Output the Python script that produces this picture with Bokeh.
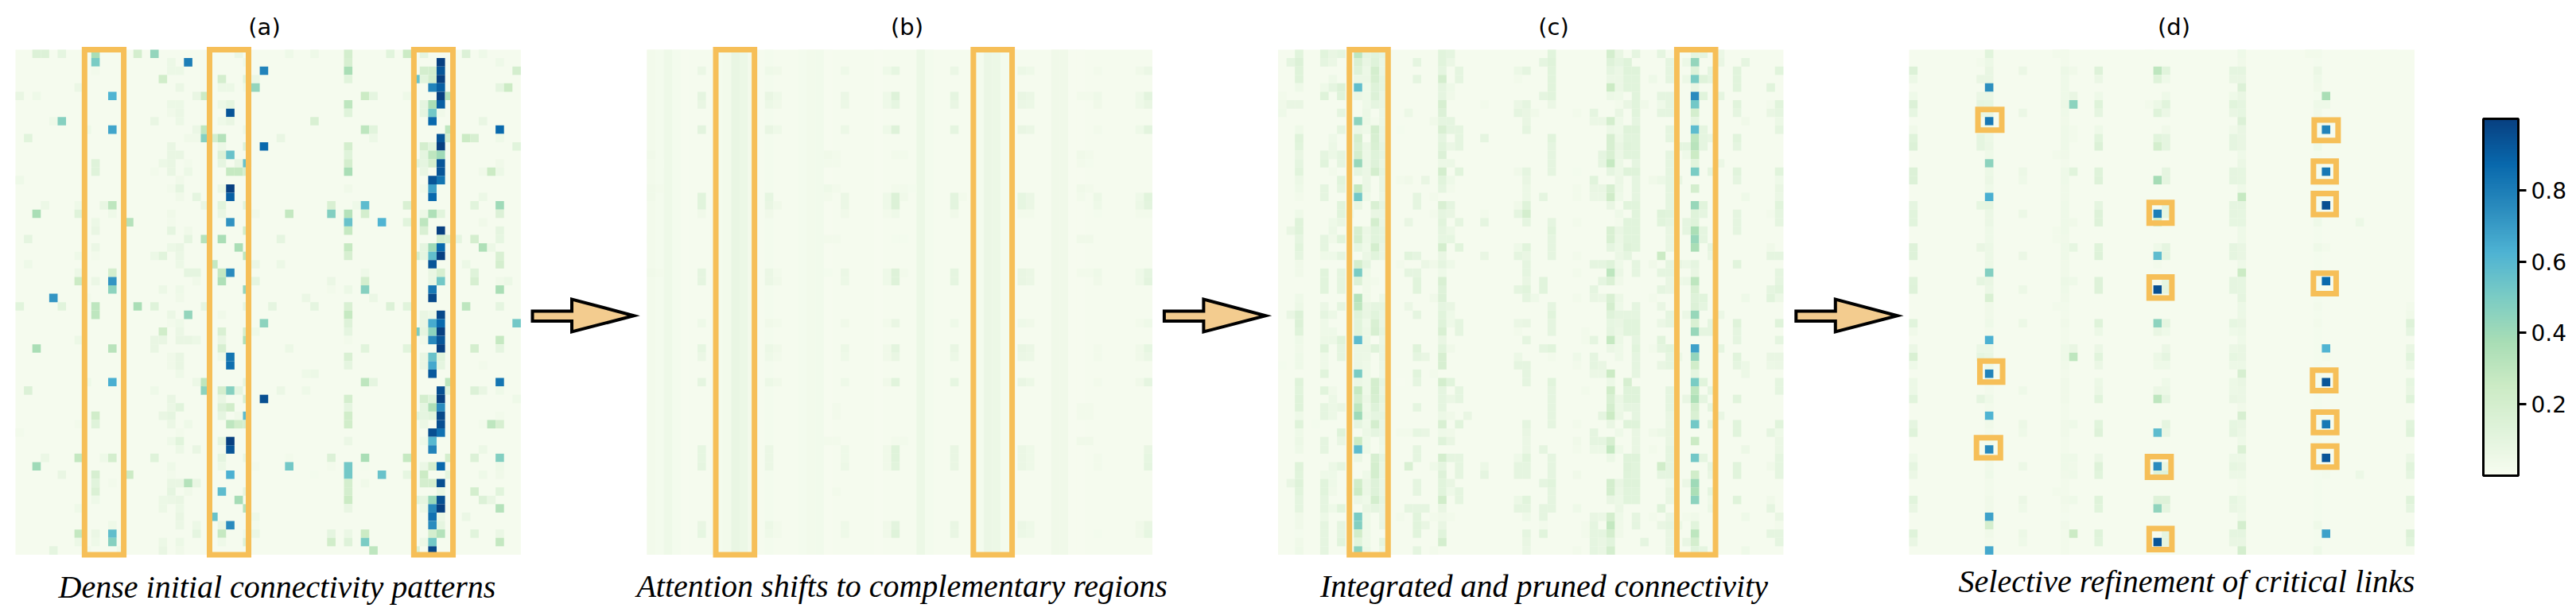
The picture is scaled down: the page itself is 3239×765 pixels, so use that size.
from bokeh.embed import file_html
from bokeh.resources import INLINE
from bokeh.plotting import figure
from bokeh.models import ColumnDataSource, LinearColorMapper, ColorBar, FixedTicker, Range1d
from bokeh.core.properties import value
from bokeh.transform import transform
from bokeh.palettes import GnBu9
import numpy as np

titles = ["(a)", "(b)", "(c)", "(d)"]
captions = ["Dense initial connectivity patterns", "Attention shifts to complementary regions",
            "Integrated and pruned connectivity", "Selective refinement of critical links"]
colorbar_ticks = [0.2, 0.4, 0.6, 0.8]
base_value = 0.012

# (column, value) cells per row, rows 0-59
a_cells = [
[(2,.15),(3,.15),(5,.1),(9,.37),(14,.2),(16,.43),(26,.07),(32,.05),(35,.05),(39,.2),(44,.12),(46,.25),(48,.1),(53,.15),(55,.05)],
[(9,.5),(18,.06),(20,.8),(27,.05),(39,.18),(50,1.0),(57,.05)],
[(9,.03),(18,.06),(19,.06),(29,.78),(39,.37),(48,.2),(49,.2),(50,.93),(59,.2)],
[(17,.22),(24,.2),(27,.12),(28,.07),(39,.12),(47,.55),(48,.12),(49,.2),(50,1.0)],
[(7,.07),(19,.07),(24,.06),(25,.06),(27,.05),(28,.43),(49,.78),(50,.9),(57,.1),(58,.25)],
[(0,.08),(2,.05),(11,.62),(21,.08),(22,.25),(41,.25),(42,.1),(46,.05),(50,1.0),(51,.33)],
[(18,.06),(19,.06),(24,.06),(25,.1),(39,.3),(48,.1),(49,.37),(50,.9)],
[(18,.04),(19,.07),(25,.93),(39,.13),(48,.1),(49,.52),(50,.04)],
[(4,.05),(5,.47),(16,.08),(19,.06),(24,.05),(25,.08),(35,.17),(49,.87),(55,.08)],
[(8,.05),(11,.67),(21,.07),(22,.3),(27,.06),(41,.3),(42,.12),(51,.3),(57,.87)],
[(1,.12),(20,.04),(21,.04),(22,.47),(23,.2),(24,.33),(31,.08),(42,.06),(50,.93),(51,.2),(53,.25),(54,.18),(57,.05)],
[(18,.08),(24,.06),(27,.15),(29,.87),(39,.2),(48,.2),(49,.12),(50,1.0),(59,.12)],
[(18,.08),(19,.08),(24,.15),(25,.55),(39,.13),(48,.1),(49,.3),(50,.4)],
[(9,.13),(17,.06),(18,.08),(20,.03),(24,.1),(26,.08),(27,.55),(39,.2),(47,.12),(48,.1),(49,.2),(50,.93),(57,.04)],
[(9,.13),(16,.03),(18,.08),(20,.06),(25,.27),(26,.27),(27,.2),(39,.37),(48,.08),(50,.93),(55,.04),(56,.25),(57,.06)],
[(0,.05),(19,.04),(49,.93),(50,.83)],
[(18,.03),(19,.1),(24,.07),(25,1.0),(39,.04),(48,.04),(49,.68)],
[(19,.04),(21,.1),(25,.9),(49,.87),(55,.06)],
[(3,.06),(7,.05),(10,.08),(11,.3),(22,.08),(24,.12),(27,.12),(37,.17),(40,.05),(41,.58),(46,.17),(54,.12),(57,.4)],
[(2,.37),(7,.13),(11,.05),(18,.04),(24,.08),(28,.04),(32,.28),(37,.48),(39,.33),(41,.2),(48,.06),(49,.35),(50,.12),(57,.15)],
[(9,.06),(13,.33),(18,.03),(25,.73),(39,.55),(43,.62),(46,.12),(48,.3),(55,.04)],
[(9,.08),(18,.1),(20,.04),(27,.22),(39,.27),(48,.17),(50,1.0),(57,.1)],
[(1,.1),(20,.1),(22,.33),(24,.37),(31,.1),(50,.2),(51,.17),(52,.1),(54,.2),(57,.09)],
[(9,.07),(18,.06),(19,.08),(26,.37),(39,.27),(48,.1),(49,.4),(50,.87),(55,.35),(56,.06)],
[(7,.05),(9,.03),(16,.06),(17,.12),(19,.07),(27,.3),(39,.18),(47,.2),(48,.1),(49,.57),(50,1.0),(57,.17)],
[(1,.05),(19,.06),(23,.28),(28,.07),(31,.06),(49,.93),(53,.06),(57,.2)],
[(7,.06),(11,.2),(20,.1),(21,.1),(24,.28),(25,.75),(41,.05),(49,.08),(50,.18),(54,.13)],
[(7,.25),(9,.07),(11,.72),(21,.04),(24,.35),(28,.1),(37,.07),(41,.2),(49,.08),(50,.52),(54,.18),(57,.04),(58,.06)],
[(11,.45),(17,.06),(19,.05),(27,.43),(37,.03),(39,.06),(41,.47),(49,.82),(57,.37)],
[(4,.72),(8,.03),(19,.04),(34,.07),(42,.07),(49,.97)],
[(0,.12),(5,.12),(9,.3),(14,.37),(16,.13),(22,.1),(27,.1),(30,.1),(35,.1),(39,.17),(44,.15),(46,.12),(53,.3),(57,.1)],
[(9,.3),(18,.07),(20,.43),(24,.04),(39,.27),(48,.08),(49,.06),(50,.97)],
[(18,.03),(19,.05),(29,.45),(39,.14),(48,.08),(49,.65),(50,.87),(59,.52)],
[(17,.22),(19,.07),(24,.17),(27,.2),(28,.05),(39,.1),(47,.5),(48,.1),(49,.45),(50,1.0)],
[(7,.06),(16,.08),(17,.08),(19,.08),(20,.08),(21,.06),(24,.08),(27,.35),(39,.03),(48,.04),(49,.76),(50,.93),(57,.27)],
[(2,.37),(11,.32),(16,.08),(24,.18),(32,.06),(41,.12),(46,.12),(50,1.0),(54,.2),(57,.1)],
[(18,.04),(19,.08),(24,.05),(25,.83),(39,.17),(48,.08),(49,.55),(50,.12)],
[(18,.04),(19,.08),(25,.85),(39,.1),(48,.08),(49,.66),(50,.1),(55,.03)],
[(19,.05),(34,.05),(35,.06),(49,.92)],
[(8,.05),(11,.64),(21,.06),(22,.3),(27,.1),(41,.3),(42,.1),(51,.3),(57,.83)],
[(1,.15),(16,.05),(22,.45),(24,.2),(25,.47),(26,.1),(31,.07),(34,.05),(50,.95),(51,.12),(54,.15),(55,.08),(57,.05)],
[(18,.08),(24,.08),(27,.18),(29,.95),(39,.2),(48,.2),(49,.13),(50,1.0),(59,.05)],
[(18,.07),(19,.12),(24,.15),(25,.22),(39,.1),(48,.1),(49,.35),(50,.75)],
[(9,.22),(17,.08),(18,.1),(24,.1),(26,.04),(27,.58),(39,.22),(47,.12),(48,.1),(49,.12),(50,.97),(57,.03)],
[(7,.03),(9,.13),(18,.07),(20,.05),(25,.3),(26,.22),(27,.2),(39,.22),(48,.07),(50,.95),(55,.03),(56,.3),(57,.18)],
[(0,.03),(19,.03),(49,.95),(50,.84)],
[(18,.05),(19,.12),(24,.1),(25,1.0),(39,.07),(48,.05),(49,.6)],
[(19,.06),(21,.08),(24,.03),(25,.93),(49,.78),(55,.06)],
[(3,.07),(7,.28),(10,.05),(11,.2),(16,.13),(24,.1),(27,.08),(32,.03),(37,.15),(41,.37),(46,.27),(51,.2),(54,.15),(57,.48)],
[(2,.4),(18,.05),(24,.06),(28,.03),(32,.52),(37,.03),(39,.52),(41,.02),(48,.07),(49,.2),(50,.87),(57,.05)],
[(5,.08),(9,.18),(13,.25),(18,.03),(25,.63),(35,.02),(39,.52),(43,.55),(46,.09),(48,.25),(51,.1),(55,.05),(57,.04)],
[(9,.12),(11,.03),(18,.08),(19,.08),(20,.33),(21,.08),(39,.2),(41,.04),(48,.2),(49,.2),(50,.95)],
[(9,.16),(18,.1),(20,.04),(24,.58),(27,.1),(39,.2),(50,.08),(54,.2),(57,.12)],
[(9,.05),(17,.06),(18,.07),(19,.08),(26,.38),(39,.25),(47,.12),(48,.1),(49,.42),(50,.95),(55,.15),(56,.08)],
[(7,.05),(17,.06),(19,.06),(27,.33),(39,.08),(48,.06),(49,.76),(50,1.0),(57,.33)],
[(19,.08),(23,.55),(28,.05),(49,.84),(50,.07),(53,.07)],
[(11,.05),(19,.07),(21,.06),(24,.08),(25,.75),(28,.03),(49,.75),(50,.1)],
[(7,.28),(9,.07),(11,.57),(21,.1),(24,.27),(27,.05),(28,.07),(37,.1),(39,.07),(41,.25),(49,.2),(50,.33),(54,.12),(57,.07)],
[(7,.06),(9,.05),(11,.47),(17,.06),(19,.06),(24,.05),(27,.15),(37,.22),(39,.14),(41,.5),(48,.06),(49,.52),(57,.28)],
[(4,.1),(8,.03),(12,.04),(17,.08),(19,.04),(42,.3),(47,.15),(49,.97)],
]

b_stripe_cols = [0,1,2,3,4,8,9,10,11,12,14,18,19,20,21,27,32,33,39,40,41,42,43,48,49,50,51]
b_stripe_vals = [.03,.02,.05,.02,.01,.02,.03,.08,.06,.03,.02,.02,.03,.035,.01,.01,.06,.02,.02,.07,.06,.02,.01,.04,.04,.01,.01]

b_cells = [
[],[],
[(6,.07),(14,.05),(15,.04),(23,.05),(28,.05),(29,.09),(36,.07),(44,.06),(45,.05),(53,.03),(58,.04),(59,.07)],
[],[],
[(6,.1),(14,.08),(15,.05),(23,.07),(28,.05),(29,.14),(36,.1),(44,.08),(45,.07),(51,.03),(52,.03),(53,.05),(58,.05),(59,.11)],
[(6,.08),(14,.06),(15,.04),(23,.06),(28,.05),(29,.09),(36,.08),(44,.07),(45,.06),(53,.04),(58,.05),(59,.08)],
[],[],
[(6,.11),(14,.08),(15,.05),(23,.06),(28,.05),(29,.14),(36,.1),(44,.08),(45,.07),(53,.03),(58,.05),(59,.11)],
[],[],
[(0,.04),(21,.04),(22,.03),(29,.03),(30,.03),(51,.04),(52,.03)],
[(0,.03),(1,.02),(21,.03),(22,.03),(51,.03),(52,.02)],
[],[],
[(0,.04),(1,.03),(14,.02),(21,.05),(22,.03),(29,.03),(30,.03),(31,.02),(51,.04),(52,.03)],
[(0,.04),(6,.12),(14,.09),(21,.03),(23,.07),(28,.05),(29,.15),(30,.04),(36,.11),(37,.03),(44,.09),(45,.07),(51,.03),(53,.06),(58,.05),(59,.12)],
[(6,.12),(14,.08),(15,.04),(23,.07),(28,.05),(29,.15),(36,.11),(44,.09),(45,.07),(53,.05),(58,.06),(59,.11)],
[(6,.04),(14,.04),(23,.04),(28,.03),(29,.05),(36,.04),(44,.03),(45,.03),(53,.02),(58,.03),(59,.03)],
[],[],
[(0,.03),(21,.03),(22,.03),(29,.02),(30,.02),(51,.04),(52,.04)],
[],[],[],
[(0,.04),(1,.03),(6,.1),(14,.07),(15,.03),(21,.02),(23,.07),(28,.05),(29,.14),(30,.03),(36,.1),(44,.08),(45,.07),(51,.03),(52,.03),(53,.05),(58,.05),(59,.1)],
[(6,.1),(14,.07),(15,.04),(23,.06),(28,.05),(29,.14),(36,.1),(44,.08),(45,.07),(53,.04),(58,.05),(59,.11)],
[],[],[],[],
[(6,.05),(14,.04),(15,.03),(23,.04),(28,.03),(29,.08),(36,.05),(44,.05),(45,.04),(58,.03),(59,.05)],
[],[],
[(6,.09),(14,.06),(15,.04),(23,.06),(28,.04),(29,.11),(36,.08),(44,.08),(45,.07),(53,.03),(58,.04),(59,.09)],
[(6,.07),(14,.05),(15,.03),(23,.05),(28,.04),(29,.08),(36,.06),(44,.07),(45,.06),(53,.03),(58,.04),(59,.07)],
[],[],
[(6,.1),(14,.06),(15,.04),(23,.05),(28,.04),(29,.12),(36,.09),(44,.08),(45,.06),(53,.03),(58,.04),(59,.1)],
[],[],
[(0,.03),(22,.03),(51,.03),(52,.03)],
[(0,.03),(22,.03),(51,.03),(52,.03)],
[],[],
[(21,.03),(22,.03),(29,.03),(30,.03),(51,.04),(52,.04)],
[(6,.09),(14,.07),(23,.05),(28,.04),(29,.13),(36,.08),(44,.07),(45,.05),(59,.08)],
[(6,.09),(14,.07),(23,.05),(28,.04),(29,.13),(36,.08),(44,.07),(45,.05),(53,.03),(59,.09)],
[(6,.1),(14,.07),(23,.06),(28,.04),(29,.12),(36,.08),(44,.07),(45,.05),(53,.03),(59,.1)],
[],[],
[(0,.03),(22,.03)],
[],[],[],
[(6,.08),(14,.06),(15,.03),(23,.05),(28,.04),(29,.11),(36,.08),(44,.07),(45,.05),(58,.04),(59,.08)],
[(6,.09),(14,.05),(15,.03),(23,.05),(28,.04),(29,.13),(36,.08),(44,.06),(45,.05),(53,.02),(58,.04),(59,.09)],
[],[],
]

c_cells = [
[(2,.12),(5,.12),(6,.08),(7,.1),(9,.3),(10,.1),(11,.12),(12,.1),(19,.12),(20,.1),(32,.12),(39,.2),(40,.08),(42,.1),(45,.1),(49,.1),(50,.1),(52,.07)],
[(1,.1),(2,.15),(5,.1),(6,.07),(9,.17),(10,.08),(11,.13),(12,.08),(16,.1),(19,.12),(20,.07),(31,.1),(32,.13),(39,.14),(40,.1),(41,.13),(46,.1),(48,.06),(49,.43),(52,.08),(55,.1)],
[(2,.13),(8,.03),(9,.14),(10,.06),(11,.2),(12,.08),(19,.1),(21,.1),(28,.06),(29,.1),(32,.12),(39,.1),(40,.07),(41,.13),(42,.13),(46,.1),(49,.14),(51,.1),(54,.12),(59,.12)],
[(2,.13),(6,.05),(9,.07),(10,.07),(11,.18),(12,.1),(16,.1),(19,.2),(21,.1),(28,.03),(32,.12),(39,.07),(40,.07),(41,.12),(42,.12),(44,.05),(46,.1),(48,.06),(49,.5),(50,.13),(51,.1),(54,.12)],
[(2,.05),(5,.05),(6,.1),(7,.15),(9,.57),(10,.05),(11,.14),(12,.1),(19,.1),(20,.05),(32,.12),(39,.25),(40,.07),(41,.12),(42,.12),(49,.08),(54,.12),(58,.12)],
[(0,.03),(5,.13),(7,.13),(8,.03),(9,.07),(10,.05),(11,.15),(12,.08),(19,.1),(20,.04),(31,.1),(32,.12),(39,.06),(40,.05),(42,.12),(45,.1),(46,.1),(49,.75),(50,.12),(52,.1)],
[(0,.04),(1,.08),(2,.08),(10,.05),(11,.1),(12,.08),(19,.18),(24,.03),(28,.07),(29,.1),(32,.07),(40,.03),(41,.08),(42,.12),(43,.04),(45,.05),(46,.1),(49,.52),(54,.12),(58,.03),(59,.12)],
[(0,.05),(7,.1),(10,.06),(12,.07),(15,.06),(19,.15),(28,.1),(29,.08),(30,.04),(35,.03),(37,.1),(40,.08),(42,.12),(45,.1),(46,.1),(49,.2),(54,.1),(58,.08),(59,.1)],
[(9,.45),(10,.06),(11,.03),(12,.07),(18,.04),(19,.1),(20,.1),(29,.08),(37,.07),(38,.07),(39,.2),(40,.05),(42,.1),(49,.1),(55,.04),(59,.06)],
[(2,.05),(7,.1),(9,.07),(10,.05),(11,.2),(12,.08),(14,.02),(19,.17),(20,.1),(21,.1),(29,.1),(39,.06),(40,.05),(41,.13),(42,.13),(46,.1),(49,.58),(50,.1),(59,.1)],
[(2,.13),(6,.05),(9,.2),(11,.18),(12,.08),(19,.1),(21,.1),(24,.1),(32,.12),(39,.18),(40,.06),(41,.12),(42,.12),(46,.1),(49,.3),(50,.1),(51,.08),(54,.12)],
[(2,.12),(6,.06),(9,.17),(10,.07),(11,.17),(12,.1),(19,.12),(20,.07),(21,.1),(32,.1),(39,.18),(40,.08),(41,.13),(42,.12),(47,.1),(48,.1),(49,.32),(50,.1),(54,.1)],
[(2,.08),(5,.1),(6,.06),(7,.1),(9,.2),(10,.06),(11,.13),(12,.1),(19,.15),(32,.1),(38,.1),(39,.17),(40,.07),(41,.12),(42,.12),(46,.1),(48,.05),(49,.25)],
[(2,.1),(5,.12),(7,.1),(9,.42),(10,.07),(11,.14),(12,.08),(19,.06),(20,.06),(32,.1),(38,.1),(39,.27),(40,.06),(42,.1),(46,.1),(49,.12),(52,.07)],
[(2,.12),(6,.03),(9,.1),(10,.07),(11,.2),(12,.1),(19,.2),(21,.12),(28,.04),(29,.1),(32,.1),(35,.02),(39,.1),(40,.06),(41,.13),(42,.13),(46,.1),(49,.5),(51,.1),(54,.12),(59,.12)],
[(2,.06),(7,.12),(10,.07),(12,.08),(14,.03),(15,.04),(17,.08),(19,.12),(20,.05),(29,.08),(37,.12),(40,.07),(42,.1),(44,.04),(45,.06),(46,.1),(47,.08),(54,.1),(59,.05)],
[(2,.05),(5,.1),(7,.1),(9,.28),(10,.07),(12,.08),(19,.1),(20,.03),(29,.06),(35,.03),(37,.08),(38,.08),(39,.18),(40,.06),(42,.1),(46,.1),(49,.2),(59,.08)],
[(2,.03),(5,.1),(9,.52),(10,.05),(12,.07),(16,.1),(18,.03),(29,.06),(31,.1),(35,.03),(37,.07),(38,.07),(39,.23),(40,.05),(42,.1),(46,.1),(55,.05),(59,.07)],
[(7,.12),(9,.08),(11,.17),(12,.1),(16,.1),(19,.17),(20,.1),(28,.04),(29,.13),(39,.08),(41,.12),(42,.12),(46,.1),(49,.42),(50,.12),(59,.12)],
[(2,.05),(7,.12),(8,.05),(11,.08),(12,.08),(18,.03),(19,.1),(20,.08),(24,.03),(28,.1),(29,.2),(40,.05),(42,.12),(45,.13),(46,.12),(49,.13),(50,.1),(54,.1),(58,.03),(59,.1)],
[(2,.13),(6,.05),(7,.08),(11,.2),(12,.08),(15,.08),(19,.12),(21,.1),(24,.1),(29,.1),(32,.1),(35,.03),(40,.03),(41,.12),(42,.12),(45,.12),(46,.1),(48,.1),(49,.13),(54,.1),(59,.1)],
[(1,.08),(2,.13),(6,.06),(9,.18),(10,.07),(11,.12),(12,.1),(19,.1),(20,.06),(32,.12),(39,.17),(40,.08),(41,.12),(42,.12),(46,.08),(48,.1),(49,.36),(50,.1),(54,.1)],
[(2,.1),(5,.1),(6,.04),(7,.12),(9,.2),(10,.06),(11,.12),(12,.1),(19,.09),(20,.09),(32,.1),(39,.17),(40,.07),(41,.12),(42,.12),(46,.08),(49,.42),(50,.1)],
[(2,.12),(5,.1),(9,.09),(10,.05),(11,.2),(12,.08),(19,.2),(21,.12),(28,.05),(29,.12),(32,.1),(39,.1),(40,.06),(41,.14),(42,.12),(46,.08),(49,.37),(51,.1),(58,.04)],
[(2,.1),(5,.05),(6,.05),(7,.1),(10,.07),(11,.12),(12,.08),(15,.12),(16,.1),(19,.08),(24,.08),(28,.1),(29,.08),(32,.1),(35,.03),(40,.07),(41,.1),(45,.25),(51,.08),(58,.1),(59,.1)],
[(2,.04),(9,.2),(10,.1),(14,.03),(17,.07),(18,.04),(19,.1),(20,.05),(29,.1),(37,.1),(38,.1),(39,.13),(40,.05),(42,.1),(44,.04),(46,.1),(47,.08),(48,.06),(49,.1),(54,.12)],
[(2,.04),(5,.12),(7,.1),(9,.5),(10,.05),(15,.1),(16,.1),(19,.05),(29,.1),(35,.03),(39,.3),(40,.07),(42,.1),(45,.1),(46,.1),(49,.08),(59,.1)],
[(5,.12),(7,.1),(9,.15),(10,.04),(11,.03),(16,.12),(19,.17),(29,.08),(31,.12),(38,.1),(39,.16),(40,.04),(46,.08),(47,.05),(48,.06),(49,.3),(59,.1)],
[(5,.12),(7,.1),(10,.04),(16,.12),(19,.14),(28,.1),(29,.12),(31,.12),(37,.1),(45,.1),(46,.08),(49,.17),(58,.1),(59,.12)],
[(2,.05),(9,.33),(10,.04),(12,.06),(18,.04),(19,.15),(29,.1),(30,.05),(35,.03),(37,.08),(38,.07),(39,.17),(40,.06),(44,.03),(49,.14),(50,.12),(55,.05),(58,.12),(59,.06)],
[(2,.06),(5,.07),(7,.1),(9,.3),(10,.08),(11,.1),(12,.1),(15,.07),(19,.1),(20,.08),(32,.1),(39,.2),(40,.05),(42,.1),(45,.08),(49,.15),(50,.1)],
[(1,.08),(2,.15),(5,.1),(6,.06),(9,.13),(10,.08),(11,.12),(12,.08),(16,.1),(19,.12),(20,.05),(32,.12),(39,.13),(40,.1),(41,.1),(42,.1),(46,.1),(48,.07),(49,.42),(52,.07)],
[(2,.15),(5,.05),(9,.12),(10,.05),(11,.17),(12,.08),(19,.13),(20,.05),(21,.1),(28,.07),(29,.08),(32,.1),(39,.09),(40,.08),(41,.12),(42,.12),(45,.07),(46,.1),(49,.17),(51,.1),(54,.13),(59,.13)],
[(2,.13),(5,.05),(6,.05),(9,.12),(10,.06),(11,.18),(12,.1),(19,.17),(21,.1),(28,.03),(32,.1),(36,.03),(39,.1),(40,.07),(41,.12),(42,.12),(49,.42),(50,.1),(51,.1),(54,.1)],
[(2,.05),(5,.06),(6,.06),(7,.13),(9,.58),(10,.06),(11,.01),(12,.07),(19,.08),(29,.1),(36,.03),(37,.1),(39,.27),(40,.06),(42,.1),(45,.12),(54,.1),(59,.1)],
[(2,.04),(5,.13),(7,.1),(9,.07),(10,.07),(11,.13),(12,.08),(16,.13),(19,.12),(20,.04),(31,.1),(32,.12),(39,.07),(40,.05),(42,.12),(44,.03),(45,.1),(46,.12),(49,.68),(52,.1)],
[(2,.05),(5,.05),(7,.1),(9,.07),(10,.06),(12,.08),(16,.1),(17,.08),(19,.18),(28,.06),(32,.03),(35,.05),(37,.1),(40,.05),(42,.1),(46,.1),(47,.06),(49,.43),(54,.12),(58,.08),(59,.08)],
[(0,.02),(2,.05),(5,.05),(9,.07),(10,.05),(12,.07),(19,.18),(28,.1),(29,.1),(35,.03),(37,.1),(38,.08),(42,.1),(45,.08),(46,.1),(49,.22),(54,.1),(55,.06),(58,.06),(59,.07)],
[(5,.12),(9,.5),(10,.05),(12,.06),(16,.12),(18,.03),(29,.1),(37,.07),(38,.07),(39,.25),(42,.1),(49,.1),(55,.06)],
[(2,.13),(9,.07),(10,.05),(11,.2),(12,.1),(14,.01),(16,.1),(19,.2),(20,.12),(29,.1),(32,.12),(39,.06),(41,.18),(49,.5),(50,.12),(59,.1)],
[(2,.12),(5,.12),(6,.04),(9,.27),(10,.05),(11,.2),(12,.08),(19,.1),(21,.1),(32,.1),(36,.03),(39,.22),(41,.13),(42,.13),(46,.1),(49,.3),(51,.1),(59,.1)],
[(2,.13),(6,.06),(9,.2),(10,.07),(11,.18),(12,.1),(19,.1),(20,.07),(21,.1),(32,.1),(39,.17),(40,.07),(41,.13),(42,.13),(46,.1),(48,.08),(49,.35),(50,.1),(54,.12)],
[(2,.13),(5,.1),(6,.06),(7,.08),(9,.3),(10,.05),(11,.14),(12,.08),(16,.1),(19,.1),(32,.1),(39,.2),(40,.06),(41,.1),(42,.1),(46,.1),(49,.2),(51,.1)],
[(2,.05),(5,.1),(6,.06),(9,.4),(10,.06),(11,.1),(12,.1),(19,.06),(20,.04),(22,.08),(32,.1),(38,.1),(39,.25),(40,.07),(42,.1),(46,.08),(49,.17),(52,.08)],
[(2,.13),(4,.02),(9,.1),(10,.05),(11,.2),(12,.08),(19,.17),(21,.12),(29,.1),(32,.1),(35,.03),(39,.08),(41,.13),(42,.13),(46,.08),(49,.52),(51,.1),(54,.12),(59,.12)],
[(2,.05),(7,.13),(10,.06),(11,.1),(12,.08),(14,.03),(15,.03),(16,.09),(17,.08),(19,.05),(20,.04),(29,.08),(37,.1),(40,.05),(42,.08),(44,.04),(45,.06),(46,.08),(54,.12),(58,.1),(59,.05)],
[(2,.06),(5,.1),(7,.08),(9,.25),(10,.05),(12,.06),(19,.13),(20,.08),(29,.07),(35,.04),(37,.1),(38,.1),(39,.18),(42,.08),(46,.08),(49,.25),(59,.07)],
[(2,.05),(5,.1),(9,.58),(10,.05),(12,.05),(16,.1),(29,.07),(31,.1),(35,.03),(37,.06),(38,.06),(39,.28),(40,.05),(42,.08),(44,.03),(46,.1),(55,.06),(59,.07)],
[(9,.07),(11,.18),(12,.1),(16,.1),(19,.2),(20,.1),(21,.1),(28,.05),(29,.12),(32,.1),(39,.06),(41,.13),(42,.13),(46,.1),(49,.52),(50,.1),(59,.1)],
[(2,.13),(6,.06),(7,.1),(11,.2),(12,.08),(15,.17),(18,.05),(19,.1),(21,.1),(24,.06),(28,.1),(29,.1),(32,.1),(41,.14),(42,.12),(45,.22),(46,.1),(51,.1),(54,.12),(58,.04),(59,.1)],
[(2,.12),(5,.05),(6,.05),(10,.05),(11,.2),(12,.08),(19,.14),(21,.1),(24,.1),(28,.1),(29,.1),(32,.1),(35,.04),(41,.13),(42,.12),(45,.1),(46,.1),(49,.22),(51,.08),(54,.12),(59,.1)],
[(1,.08),(2,.14),(5,.12),(6,.05),(9,.22),(10,.07),(11,.14),(12,.08),(16,.1),(19,.12),(20,.08),(31,.1),(32,.12),(39,.2),(40,.08),(41,.13),(42,.13),(46,.05),(48,.07),(49,.4)],
[(2,.12),(5,.12),(6,.04),(8,.03),(9,.25),(10,.07),(11,.14),(12,.08),(16,.1),(19,.12),(20,.05),(21,.1),(32,.1),(39,.2),(40,.07),(41,.12),(42,.12),(46,.08),(49,.36),(51,.1)],
[(2,.1),(5,.1),(9,.07),(10,.05),(11,.2),(12,.1),(19,.22),(21,.1),(28,.06),(29,.12),(32,.1),(39,.08),(40,.06),(41,.12),(42,.12),(46,.08),(49,.45),(51,.05),(54,.13),(58,.04)],
[(2,.1),(5,.1),(6,.05),(7,.12),(10,.08),(11,.1),(12,.08),(15,.1),(16,.1),(17,.1),(19,.08),(28,.1),(29,.1),(31,.1),(32,.1),(35,.05),(40,.07),(45,.13),(51,.06),(58,.1)],
[(2,.04),(5,.06),(9,.5),(10,.05),(12,.08),(14,.03),(16,.12),(18,.03),(19,.04),(20,.03),(29,.05),(31,.1),(37,.08),(38,.07),(39,.2),(40,.05),(42,.1),(44,.03),(46,.08),(48,.03),(49,.04),(55,.05),(59,.08)],
[(2,.04),(5,.1),(7,.1),(9,.48),(10,.05),(12,.08),(16,.12),(17,.08),(19,.08),(31,.03),(36,.03),(37,.1),(39,.28),(40,.04),(42,.1),(45,.08),(46,.1),(47,.06),(49,.12),(59,.03)],
[(2,.02),(5,.1),(7,.1),(9,.22),(10,.05),(16,.12),(19,.12),(29,.1),(31,.12),(36,.03),(37,.1),(38,.1),(39,.2),(40,.04),(46,.08),(49,.3),(58,.1),(59,.1)],
[(2,.04),(5,.1),(7,.12),(9,.12),(10,.05),(12,.1),(19,.2),(29,.08),(37,.1),(38,.08),(39,.12),(43,.1),(46,.08),(48,.08),(49,.2),(59,.1)],
[(2,.05),(5,.1),(9,.45),(10,.06),(12,.06),(16,.1),(18,.03),(29,.07),(35,.03),(37,.1),(38,.08),(39,.2),(46,.08),(49,.12),(50,.1),(55,.05)],
]

d_stripe_cols = [9,18,28,39,47,48,56,57]
d_stripe_vals = [.03,.03,.015,.04,.012,.02,.015,.015]

d_cells = [
[(9,.12),(17,.03),(18,.03),(39,.05),(47,.03),(48,.03)],
[(8,.03),(9,.06)],
[(0,.15),(9,.08),(13,.07),(18,.06),(19,.04),(22,.14),(29,.3),(30,.12),(38,.1),(39,.1),(48,.07)],
[(0,.06),(8,.08),(9,.08),(18,.05),(22,.07),(29,.13),(30,.05),(38,.08),(39,.08),(48,.05)],
[(9,.74),(18,.05),(39,.15),(48,.04)],
[(0,.05),(8,.07),(9,.07),(18,.05),(19,.08),(22,.05),(30,.05),(38,.05),(39,.08),(49,.37)],
[(0,.15),(8,.1),(9,.09),(18,.06),(19,.45),(22,.13),(28,.03),(29,.06),(30,.12),(38,.12),(39,.1),(48,.05),(49,.05)],
[(0,.09),(8,.08),(9,.08),(13,.07),(18,.05),(22,.1),(29,.13),(30,.07),(38,.08),(39,.09),(48,.04)],
[(9,.82),(18,.04),(39,.15)],
[(0,.04),(8,.05),(9,.05),(18,.05),(19,.03),(22,.05),(30,.04),(38,.04),(39,.08),(49,.78)],
[(0,.13),(8,.1),(9,.06),(18,.05),(19,.03),(22,.12),(29,.12),(30,.1),(38,.1),(39,.08)],
[(0,.15),(8,.1),(9,.07),(18,.05),(22,.15),(29,.2),(30,.1),(38,.1),(39,.08),(48,.05)],
[(9,.05),(17,.03),(18,.04),(39,.05)],
[(9,.45),(18,.03),(39,.07)],
[(0,.15),(9,.06),(13,.06),(18,.05),(19,.12),(22,.13),(30,.1),(38,.1),(39,.09),(49,.82)],
[(0,.15),(9,.07),(13,.05),(18,.05),(22,.14),(29,.38),(30,.1),(38,.1),(39,.09)],
[(9,.05),(18,.04),(39,.05)],
[(9,.64),(18,.04),(39,.27)],
[(0,.1),(8,.09),(9,.1),(18,.05),(22,.1),(30,.1),(38,.1),(39,.1),(49,.95)],
[(0,.12),(9,.07),(13,.06),(18,.05),(22,.14),(29,.8),(30,.09),(38,.1),(39,.09)],
[(0,.12),(9,.07),(18,.05),(19,.04),(22,.14),(29,.22),(38,.09),(39,.09),(48,.05),(53,.06)],
[(9,.05),(17,.03),(18,.05),(39,.05)],
[(9,.05),(17,.03),(18,.04),(39,.05)],
[(0,.14),(8,.08),(9,.06),(18,.05),(19,.09),(22,.13),(29,.05),(30,.1),(38,.1),(39,.08),(48,.05),(49,.03)],
[(0,.14),(9,.06),(13,.07),(18,.05),(22,.14),(29,.58),(30,.1),(38,.1),(39,.08)],
[(9,.06),(18,.04),(29,.03),(39,.05)],
[(9,.48),(18,.04),(39,.25)],
[(0,.13),(8,.1),(9,.08),(18,.06),(19,.05),(22,.14),(30,.09),(38,.1),(39,.09),(49,.87)],
[(0,.14),(9,.07),(13,.06),(18,.05),(22,.14),(29,.95),(30,.1),(38,.1),(39,.09)],
[(9,.17),(18,.04),(39,.1)],
[(9,.04),(17,.03),(18,.03),(39,.06),(48,.03),(59,.03)],
[(9,.04),(39,.06),(59,.04)],
[(0,.12),(9,.05),(13,.06),(18,.04),(22,.13),(29,.45),(30,.1),(38,.09),(39,.08),(48,.03),(59,.14)],
[(0,.04),(18,.03),(22,.06),(29,.08),(30,.05),(38,.05),(39,.06),(59,.1)],
[(9,.63),(18,.03),(39,.05)],
[(0,.07),(8,.07),(9,.07),(18,.05),(19,.08),(22,.07),(30,.07),(38,.07),(39,.08),(49,.62),(59,.08)],
[(0,.17),(8,.1),(9,.08),(18,.05),(19,.3),(22,.12),(29,.06),(30,.1),(38,.09),(39,.08),(49,.03),(59,.12)],
[(0,.05),(9,.05),(18,.04),(22,.07),(29,.05),(30,.05),(38,.06),(39,.06),(59,.07)],
[(9,.78),(18,.03),(39,.18)],
[(0,.06),(18,.04),(22,.06),(30,.05),(38,.06),(39,.08),(49,.93),(59,.09)],
[(0,.06),(9,.03),(13,.05),(18,.04),(22,.07),(29,.07),(30,.06),(38,.06),(39,.07),(59,.08)],
[(0,.12),(8,.1),(9,.05),(18,.04),(22,.12),(29,.3),(30,.1),(38,.08),(39,.07),(59,.13)],
[(9,.03),(18,.03),(39,.04)],
[(9,.62),(18,.03),(39,.18)],
[(0,.1),(9,.04),(13,.06),(18,.04),(19,.05),(22,.12),(30,.1),(38,.09),(39,.08),(49,.82),(59,.12)],
[(0,.13),(13,.05),(18,.04),(22,.14),(29,.58),(30,.08),(38,.1),(39,.07),(59,.13)],
[(9,.03),(18,.03),(39,.05)],
[(9,.76),(18,.03),(39,.16)],
[(0,.05),(9,.04),(18,.05),(19,.05),(22,.07),(38,.06),(39,.06),(49,.93),(59,.07)],
[(0,.1),(9,.04),(13,.06),(18,.05),(19,.04),(22,.14),(29,.75),(30,.08),(38,.09),(39,.08),(59,.12)],
[(0,.07),(9,.05),(18,.04),(19,.05),(22,.12),(29,.14),(30,.14),(38,.06),(39,.06),(49,.03),(53,.06),(59,.1)],
[(9,.03),(39,.03)],
[(9,.03),(17,.03),(18,.03),(39,.03)],
[(0,.12),(9,.04),(13,.07),(18,.04),(19,.05),(22,.13),(29,.14),(30,.14),(38,.09),(39,.06),(59,.13)],
[(0,.08),(9,.04),(13,.05),(18,.03),(22,.12),(29,.44),(30,.1),(38,.08),(39,.06),(59,.1)],
[(9,.68),(18,.02),(39,.05)],
[(9,.2),(18,.04),(39,.2),(48,.05)],
[(0,.13),(9,.04),(13,.06),(18,.03),(19,.25),(22,.13),(30,.1),(38,.1),(39,.1),(49,.68),(59,.15)],
[(0,.08),(9,.03),(13,.05),(18,.03),(22,.12),(29,.93),(30,.1),(38,.08),(39,.08),(59,.12)],
[(9,.66),(18,.03),(39,.2),(48,.05)],
]

# highlight boxes: (left column, right column, top row, bottom row)
a_boxes = [(8.2,12.85,0,60),(23.04,27.67,0,60),(47.3,51.94,0,60)]
b_boxes = [(8.17,12.76,0,60),(38.75,43.35,0,60)]
c_boxes = [(8.47,13.06,0,60),(47.35,51.94,0,60)]
d_boxes = [(8.17,11.0,7.1,9.56),(48.1,50.93,8.35,10.8),(48.0,50.7,13.25,15.7),(48.0,50.7,17.1,19.6),
           (28.5,31.2,18.16,20.6),(28.5,31.2,27.0,29.5),(48.0,50.7,26.55,29.0),(8.4,11.1,37.0,39.5),
           (47.9,50.66,38.07,40.5),(48.0,50.77,43.07,45.5),(48.0,50.77,47.1,49.6),(8.0,10.84,46.1,48.5),
           (28.3,31.1,48.35,50.8),(28.5,31.2,56.9,59.4)]

# layout, in page pixels
PW, PH = 3239, 765
CELL = 10.59
PANEL_LEFT = [19, 813, 1606.5, 2400]
PANEL_TOP = 62
TITLE_X = [332, 1140, 1953, 2733]
TITLE_BASE = 33
CAP_X = [348, 1133.6, 1941, 2749]
CAP_BASE = [738, 736.7, 736.7, 730.5]
ARROW_SHIFT = [0, 794.4, 1588.8]
TITLE_PX, CAP_PX, TICK_PX = "29px", "40px", "28px"


def px(x):
    return x / CELL


def py(y):
    return (y - PANEL_TOP) / CELL


anchors = ["#f7fcf0", "#e0f3db", "#ccebc5", "#a8ddb5", "#7bccc4", "#4eb3d3", "#2b8cbe", "#0868ac", "#084081"]
assert list(GnBu9)[::-1] == anchors
t = np.linspace(0, 8, 256)
rgb = np.array([[int(h[i:i + 2], 16) for i in (1, 3, 5)] for h in anchors], float)
palette = ["#%02x%02x%02x" % tuple(int(round(np.interp(v, range(9), rgb[:, k]))) for k in range(3)) for v in t]
mapper = LinearColorMapper(palette=palette, low=0, high=1)

p = figure(width=PW, height=PH, output_backend="svg", toolbar_location=None,
           x_range=Range1d(0, PW / CELL), y_range=Range1d(py(PH), py(0)),
           min_border=0, outline_line_color=None, background_fill_color="white")
p.axis.visible = False
p.grid.visible = False

all_cells = [a_cells, b_cells, c_cells, d_cells]
all_stripes = [([], []), (b_stripe_cols, b_stripe_vals), ([], []), (d_stripe_cols, d_stripe_vals)]
all_boxes = [a_boxes, b_boxes, c_boxes, d_boxes]

for i in range(4):
    off = px(PANEL_LEFT[i])
    p.rect(x=[off + 30], y=[30], width=60, height=60, line_color=None,
           fill_color=palette[int(base_value * 255)])
    cols, vals = all_stripes[i]
    if cols:
        src = ColumnDataSource(dict(x=[off + c + .5 for c in cols], v=vals, y=[30] * len(cols)))
        p.rect(x="x", y="y", width=1, height=60, source=src, line_color=None,
               fill_color=transform("v", mapper))
    xs, ys, vs = [], [], []
    for r, row in enumerate(all_cells[i]):
        for c, v in row:
            xs.append(off + c + .5)
            ys.append(r + .5)
            vs.append(v)
    src = ColumnDataSource(dict(x=xs, y=ys, v=vs))
    p.rect(x="x", y="y", width=1, height=1, source=src, line_color=None,
           fill_color=transform("v", mapper))
    bx = all_boxes[i]
    p.quad(left=[off + b[0] for b in bx], right=[off + b[1] for b in bx],
           top=[b[2] for b in bx], bottom=[b[3] for b in bx],
           fill_color=None, line_color="#F6BF58", line_width=7, line_join="miter")
    p.text(x=[px(TITLE_X[i])], y=[py(TITLE_BASE)], text=[titles[i]], text_align="center",
           text_baseline="alphabetic", text_font=value("DejaVu Sans"), text_font_size=TITLE_PX,
           text_color="black")
    p.text(x=[px(CAP_X[i])], y=[py(CAP_BASE[i])], text=[captions[i]], text_align="center",
           text_baseline="alphabetic", text_font=value("Liberation Serif"), text_font_size=CAP_PX,
           text_font_style="italic", text_color="black")

arrow_px_x = [669, 718.5, 718.5, 796.5, 718.5, 718.5, 669]
arrow_px_y = [391, 391, 376, 396.7, 417, 403.5, 403.5]
for s in ARROW_SHIFT:
    p.patch(x=[px(v + s) for v in arrow_px_x], y=[py(v) for v in arrow_px_y],
            fill_color="#F3CC8F", line_color="black", line_width=4, line_join="miter")

cb = ColorBar(color_mapper=mapper, ticker=FixedTicker(ticks=colorbar_ticks),
              location=(3122, 765 - 598), width=44, height=449, padding=0, margin=0,
              bar_line_color="black", bar_line_width=3, major_tick_line_color="black",
              major_tick_line_width=3, major_tick_in=0, major_tick_out=10,
              minor_tick_line_color=None, label_standoff=6,
              major_label_text_font="DejaVu Sans", major_label_text_font_size=TICK_PX,
              major_label_text_color="black", background_fill_color=None, border_line_color=None)
p.add_layout(cb, "center")

open("out.html", "w").write(file_html(p, INLINE))
